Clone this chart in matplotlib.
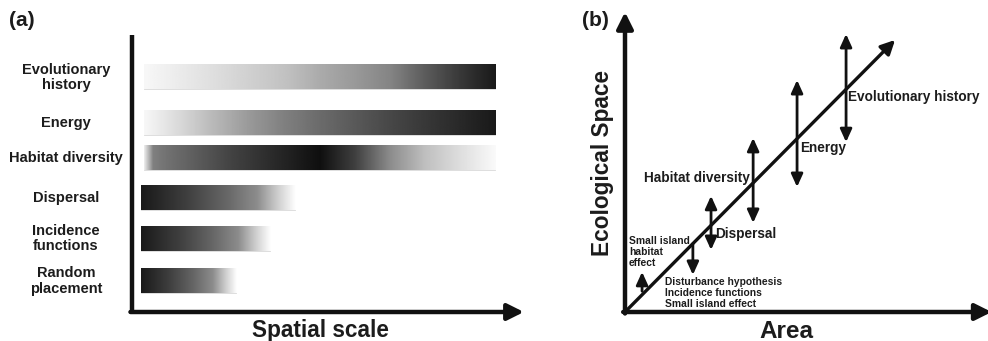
import numpy as np
import matplotlib
matplotlib.use("Agg")
import matplotlib.pyplot as plt
from matplotlib.patches import Rectangle

plt.rcParams["font.family"] = ["Liberation Sans", "DejaVu Sans"]
plt.rcParams["font.weight"] = "bold"

# ---- panel (a): spatial scale at which each mechanism operates ----
mechanisms = ["Evolutionary\nhistory", "Energy", "Habitat diversity",
              "Dispersal", "Incidence\nfunctions", "Random\nplacement"]
row_pos = [84.8, 68.2, 55.6, 41.0, 26.4, 11.2]
bar_start = [3.1, 3.1, 3.1, 2.3, 2.3, 2.3]
bar_end = [93.6, 93.6, 93.6, 42.0, 35.6, 26.8]
# grey level (0 = black, 1 = white) along each bar, as (fraction, level)
shade_stops = [
    ([0.0, 0.2, 0.4, 0.5, 0.6, 0.7, 0.8, 0.9, 1.0],
     [0.97, 0.87, 0.76, 0.67, 0.6, 0.52, 0.36, 0.22, 0.1]),
    ([0.0, 0.1, 0.2, 0.3, 0.4, 0.5, 0.6, 0.7, 0.8, 1.0],
     [0.97, 0.85, 0.72, 0.6, 0.5, 0.42, 0.35, 0.28, 0.22, 0.1]),
    ([0.0, 0.025, 0.06, 0.25, 0.5, 0.6, 0.7, 0.8, 0.9, 1.0],
     [0.92, 0.5, 0.45, 0.26, 0.06, 0.25, 0.55, 0.75, 0.87, 0.98]),
    ([0.0, 0.3, 0.55, 0.75, 0.88, 1.0],
     [0.1, 0.25, 0.4, 0.55, 0.8, 1.0]),
    ([0.0, 0.3, 0.55, 0.75, 0.88, 1.0],
     [0.1, 0.25, 0.4, 0.55, 0.8, 1.0]),
    ([0.0, 0.3, 0.55, 0.75, 0.88, 1.0],
     [0.1, 0.25, 0.4, 0.55, 0.8, 1.0]),
]
bar_height = 8.7

# ---- panel (b): ecological space vs. area ----
trend_end = (74.4, 91.6)
arrow_x = [4.7, 18.7, 23.7, 35.3, 47.4, 60.9]
arrow_y0 = [7.0, 23.0, 20.9, 30.0, 42.1, 57.2]
arrow_y1 = [13.5, 12.5, 39.1, 58.6, 78.1, 93.6]
arrow_kind = ["->", "->", "<->", "<->", "<->", "<->"]
big_labels = ["Evolutionary history", "Energy", "Habitat diversity", "Dispersal"]
big_xy = [(61.4, 72.4), (48.2, 55.2), (34.4, 45.1), (24.8, 26.3)]
big_ha = ["left", "left", "right", "left"]
small_labels = ["Small island\nhabitat\neffect",
                "Disturbance hypothesis\nIncidence functions\nSmall island effect"]
small_xy = [(1.1, 20.2), (11.0, 6.4)]

W, H = 988, 341
fig = plt.figure(figsize=(W / 100, H / 100), dpi=100)
INK = "#1c1c1c"


def px_axes(x0, x1, ytop, ybot):
    return fig.add_axes([x0 / W, (H - ybot) / H, (x1 - x0) / W, (ybot - ytop) / H])


# panel (a)
axa = px_axes(132, 520, 35, 312)
axa.set_xlim(0, 100)
axa.set_ylim(0, 100)
axa.axis("off")
for y, x0, x1, (fr, lv) in zip(row_pos, bar_start, bar_end, shade_stops):
    t = np.linspace(0, 1, 400)
    g = np.interp(t, fr, lv)[None, :]
    axa.imshow(g, cmap="gray", vmin=0, vmax=1, aspect="auto",
               extent=(x0, x1, y - bar_height / 2, y + bar_height / 2),
               interpolation="bilinear", zorder=2)
    axa.add_patch(Rectangle((x0, y - bar_height / 2), x1 - x0, bar_height,
                            fill=False, ec="#d8d8d8", lw=0.6, zorder=1))
for lab, y in zip(mechanisms, row_pos):
    axa.text(-17.0, y, lab, ha="center", va="center", fontsize=10.5,
             fontweight="bold", color=INK, linespacing=1.1)
# axes of panel (a)
axa.plot([0, 0], [0, 100], color="#111111", lw=3.2, solid_capstyle="butt",
         clip_on=False, zorder=3)
axa.annotate("", xy=(101, 0), xytext=(-0.4, 0), xycoords="data",
             arrowprops=dict(arrowstyle="-|>,head_length=0.7,head_width=0.35",
                             color="#111111", lw=3.2, shrinkA=0, shrinkB=0,
                             mutation_scale=14),
             annotation_clip=False, zorder=3)
axa.text(48.5, -6.5, "Spatial scale", ha="center", va="center", fontsize=16.3,
         fontweight="bold", color=INK)
fig.text(9 / W, 1 - 20 / H, "(a)", ha="left", va="center", fontsize=15,
         fontweight="bold", color=INK)

# panel (b)
axb = px_axes(625, 988, 15, 312)
axb.set_xlim(0, 100)
axb.set_ylim(0, 100)
axb.axis("off")
axis_arrow = dict(arrowstyle="-|>,head_length=0.7,head_width=0.35",
                  color="#111111", lw=3.2, shrinkA=0, shrinkB=0, mutation_scale=14)
axb.annotate("", xy=(0, 101), xytext=(0, -0.5), arrowprops=axis_arrow,
             annotation_clip=False)
axb.annotate("", xy=(101, 0), xytext=(-0.5, 0), arrowprops=axis_arrow,
             annotation_clip=False)
axb.annotate("", xy=trend_end, xytext=(0, 0),
             arrowprops=dict(arrowstyle="-|>,head_length=0.6,head_width=0.3",
                             color="#111111", lw=2.4, shrinkA=0, shrinkB=0,
                             mutation_scale=14),
             annotation_clip=False)
for x, y0, y1, kind in zip(arrow_x, arrow_y0, arrow_y1, arrow_kind):
    style = ("-|>" if kind == "->" else "<|-|>") + ",head_length=0.55,head_width=0.25"
    axb.annotate("", xy=(x, y1), xytext=(x, y0),
                 arrowprops=dict(arrowstyle=style, color="#111111", lw=2.0,
                                 shrinkA=0, shrinkB=0, mutation_scale=14),
                 annotation_clip=False)
for lab, (x, y), ha in zip(big_labels, big_xy, big_ha):
    axb.text(x, y, lab, ha=ha, va="center", fontsize=9.8, fontweight="bold",
             color=INK)
for lab, (x, y) in zip(small_labels, small_xy):
    axb.text(x, y, lab, ha="left", va="center", fontsize=7.4, fontweight="bold",
             color=INK, linespacing=1.1)
axb.text(-6.2, 50, "Ecological Space", ha="center", va="center", rotation=90,
         fontsize=16.3, fontweight="bold", color=INK)
axb.text(44.5, -6.5, "Area", ha="center", va="center", fontsize=17.5,
         fontweight="bold", color=INK)
fig.text(582 / W, 1 - 20 / H, "(b)", ha="left", va="center", fontsize=15,
         fontweight="bold", color=INK)

fig.savefig("out.png", dpi=100)
